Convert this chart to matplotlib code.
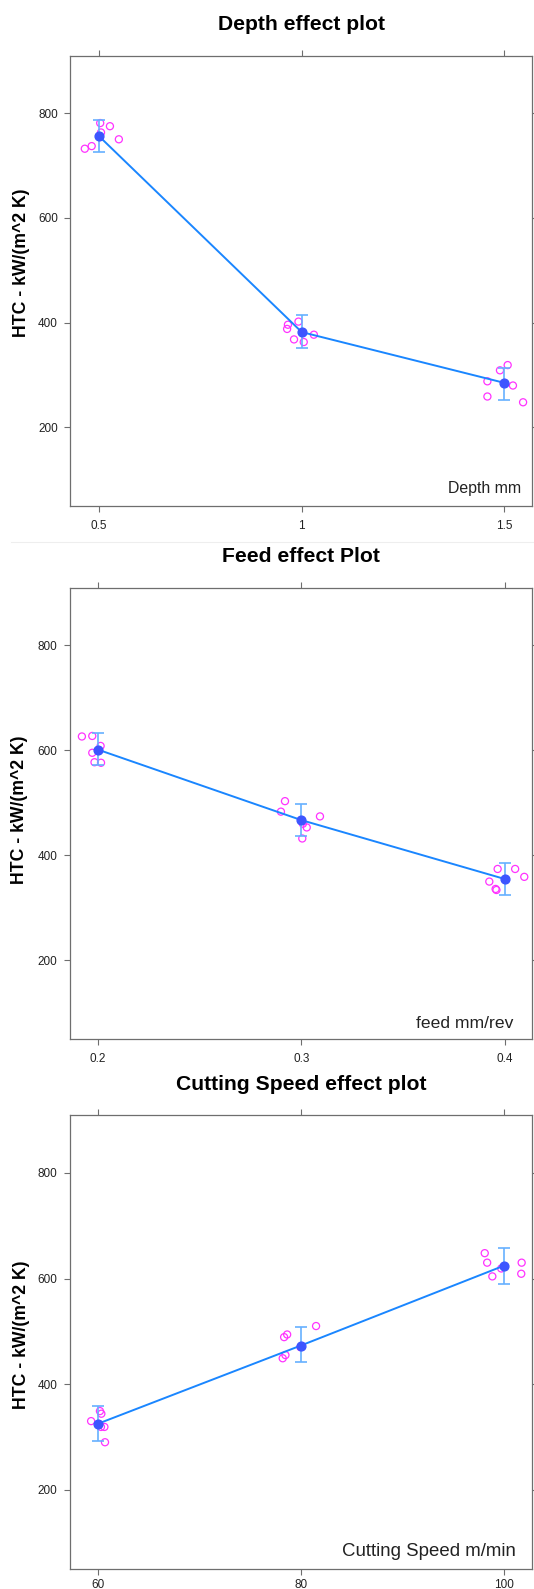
import numpy as np
import matplotlib
matplotlib.use('Agg')
import matplotlib.pyplot as plt
from matplotlib.lines import Line2D

plt.rcParams['font.family'] = ['Liberation Sans', 'DejaVu Sans']

# ---- data ----
depth_levels = [0.5, 1.0, 1.5]
depth_fit = [756, 382, 285]
depth_lower = [725, 352, 253]
depth_upper = [787, 414, 314]
depth_obs_x = [0.465, 0.482, 0.503, 0.505, 0.527, 0.549,
               0.966, 0.964, 0.992, 0.981, 1.005, 1.030,
               1.458, 1.458, 1.489, 1.508, 1.521, 1.546]
depth_obs_y = [732, 737, 781, 763, 775, 750,
               396, 388, 402, 368, 363, 377,
               288, 259, 309, 319, 280, 248]

feed_levels = [0.2, 0.3, 0.4]
feed_fit = [601, 467, 355]
feed_lower = [571, 437, 324]
feed_upper = [632, 498, 386]
feed_obs_x = [0.1921, 0.1972, 0.2013, 0.1972, 0.1983, 0.2015,
              0.2920, 0.2900, 0.3008, 0.3027, 0.3005, 0.3092,
              0.3966, 0.4052, 0.4097, 0.3925, 0.3956, 0.3960]
feed_obs_y = [626, 627, 608, 595, 577, 576,
              503, 483, 460, 453, 432, 474,
              374, 374, 359, 350, 336, 334]

speed_levels = [60, 80, 100]
speed_fit = [325, 473, 624]
speed_lower = [292, 441, 589]
speed_upper = [359, 508, 658]
speed_obs_x = [59.33, 60.20, 60.34, 60.30, 60.64, 60.70,
               78.36, 78.66, 78.49, 78.22, 79.97, 81.51,
               98.14, 98.38, 98.89, 99.77, 101.78, 101.74]
speed_obs_y = [330, 349, 344, 319, 319, 290,
               489, 494, 455, 449, 470, 510,
               648, 630, 604, 619, 630, 609]

titles = ['Depth effect plot', 'Feed effect Plot', 'Cutting Speed effect plot']
xlabels = ['Depth mm', 'feed mm/rev', 'Cutting Speed m/min']
xtick_labels = [['0.5', '1', '1.5'], ['0.2', '0.3', '0.4'], ['60', '80', '100']]
ylabel = 'HTC - kW/(m^2 K)'

W, H = 534, 1589
fig = plt.figure(figsize=(W / 100, H / 100), dpi=100)


def fx(px):
    return px / W


def fy(py):
    return 1 - py / H


# panel boxes in pixels: left, right, top, bottom
boxes = [(70, 532, 56, 506), (69.5, 532, 587.7, 1039.3), (69.5, 532, 1115.3, 1569)]
xlims = [(0.4285, 1.568), (0.186, 0.4135), (57.2, 102.8)]
title_y = [24.5, 557, 1085]
ylab_pos = [(21.7, 263), (19.5, 810), (22, 1335)]
xlab_size = [11.4, 12.6, 13.4]
xlab_inset = [(10.5, 13), (18.5, 11.5), (16, 12.5)]
xtick_pad = [5.5, 5.5, 3.2]   # last one squeezed so the labels stay on the canvas

panels = [
    (depth_levels, depth_fit, depth_lower, depth_upper, depth_obs_x, depth_obs_y),
    (feed_levels, feed_fit, feed_lower, feed_upper, feed_obs_x, feed_obs_y),
    (speed_levels, speed_fit, speed_lower, speed_upper, speed_obs_x, speed_obs_y),
]

frame_col = '#6e6e6e'
for i, (lev, fit, lo, up, ox, oy) in enumerate(panels):
    l, r, t, b = boxes[i]
    ax = fig.add_axes([fx(l), fy(b), fx(r - l), (b - t) / H])
    ax.set_xlim(*xlims[i])
    ax.set_ylim(50, 909)
    ax.scatter(ox, oy, s=26, facecolors='none', edgecolors='#ff33ff', linewidths=0.9, zorder=2)
    ax.plot(lev, fit, color='#1a86ff', lw=1.4, zorder=3)
    ax.errorbar(lev, fit, yerr=[np.array(fit) - np.array(lo), np.array(up) - np.array(fit)],
                fmt='none', ecolor='#66b0ff', elinewidth=1.2, capsize=4, capthick=1.2, zorder=3)
    ax.scatter(lev, fit, s=40, color='#3d55ff', zorder=4)
    ax.set_xticks(lev)
    ax.set_xticklabels(xtick_labels[i])
    ax.set_yticks([200, 400, 600, 800])
    ax.tick_params(direction='out', length=4.3, width=0.8, color=frame_col,
                   labelsize=8.5, pad=4.5, top=True, right=True, labelcolor='#222222')
    ax.tick_params(axis='x', pad=xtick_pad[i])
    for sp in ax.spines.values():
        sp.set_color(frame_col)
        sp.set_linewidth(0.9)

    fig.text(0.5 * (fx(l) + fx(r)) + 0.5 * fx(1), fy(title_y[i]), titles[i],
             ha='center', va='center', fontsize=15.2, fontweight='bold')
    fig.text(fx(ylab_pos[i][0]), fy(ylab_pos[i][1]), ylabel, rotation=90,
             ha='center', va='center', fontsize=12.7, fontweight='bold')
    fig.text(fx(r - xlab_inset[i][0]), fy(b - xlab_inset[i][1]), xlabels[i],
             ha='right', va='baseline', fontsize=xlab_size[i], color='#222222')

# faint separator between the first two screenshots
fig.add_artist(Line2D([fx(11), 1], [fy(541.5), fy(541.5)], color='#eeeeee', lw=0.8))

fig.savefig('out.png', dpi=100)
